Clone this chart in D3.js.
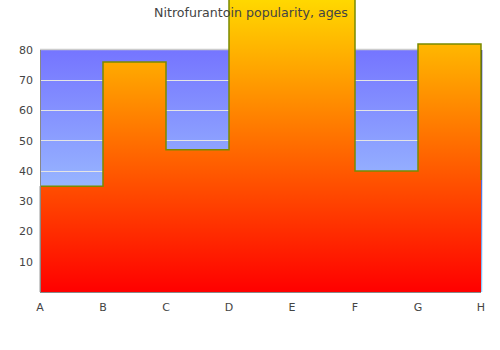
<!DOCTYPE html>
<html><head><meta charset="utf-8">
<script src="https://cdn.jsdelivr.net/npm/d3@7"></script>
<style>body{margin:0;background:#fff}svg{display:block}text{font-family:"DejaVu Sans",sans-serif}</style>
</head><body>
<svg id="c" width="500" height="350"></svg>
<script>
const categories = ["A","B","C","D","E","F","G","H"];
const values = [35, 76, 47, 114, 114, 40, 82, 37];
const yTicks = [10,20,30,40,50,60,70,80];
const title = "Nitrofurantoin popularity, ages";

const svg = d3.select("#c");
const m = {l:40, r:481, t:50, b:292};
const x = d3.scalePoint().domain(categories).range([m.l, m.r]);
const y = d3.scaleLinear().domain([0, 80]).range([m.b, m.t]);
const defs = svg.append("defs");

const bg = defs.append("linearGradient").attr("id","bg").attr("x1",0).attr("y1",0).attr("x2",0).attr("y2",1);
bg.append("stop").attr("offset",0).attr("stop-color","#7575ff");
bg.append("stop").attr("offset",1).attr("stop-color","#b2e6ff");
const edge = defs.append("linearGradient").attr("id","edge").attr("gradientUnits","userSpaceOnUse")
  .attr("x1",0).attr("y1",m.t).attr("x2",0).attr("y2",m.b);
edge.append("stop").attr("offset",0).attr("stop-color","#0000b0");
edge.append("stop").attr("offset",1).attr("stop-color","#90d0ff");

const yMax = d3.max(values);
const ar = defs.append("linearGradient").attr("id","ar").attr("gradientUnits","userSpaceOnUse")
  .attr("x1",0).attr("y1",y(0)).attr("x2",0).attr("y2",y(yMax));
ar.append("stop").attr("offset",0).attr("stop-color","#ff0000");
ar.append("stop").attr("offset",1).attr("stop-color","#ffff00");

// plot background
svg.append("rect").attr("x",m.l).attr("y",m.t).attr("width",m.r-m.l).attr("height",m.b-m.t).attr("fill","url(#bg)");
// grid
svg.append("g").selectAll("line").data(yTicks.slice(0,-1)).join("line")
  .attr("x1",m.l).attr("x2",m.r).attr("y1",d=>y(d)).attr("y2",d=>y(d))
  .attr("stroke","#e4e4e4").attr("stroke-width",1).attr("shape-rendering","crispEdges");
svg.append("line").attr("x1",m.l).attr("x2",m.r).attr("y1",y(80)-0.5).attr("y2",y(80)-0.5).attr("stroke","#cccccc").attr("stroke-width",1.5);
svg.append("line").attr("x1",m.r+0.5).attr("x2",m.r+0.5).attr("y1",m.t).attr("y2",m.b).attr("stroke","url(#edge)").attr("stroke-width",1.5);

const data = categories.map((c,i)=>({c, v: values[i]}));
const area = d3.area().x(d=>x(d.c)).y0(y(0)).y1(d=>y(d.v)).curve(d3.curveStepAfter);
const line = d3.line().x(d=>x(d.c)).y(d=>y(d.v)).curve(d3.curveStepAfter);
svg.append("path").datum(data).attr("d",area).attr("fill","url(#ar)");
svg.append("path").datum(data).attr("d",line).attr("fill","none").attr("stroke","#7a8a00").attr("stroke-width",1.5);
svg.append("line").attr("x1",x("A")).attr("x2",x("A")).attr("y1",y(0)).attr("y2",y(values[0])).attr("stroke","#999").attr("stroke-width",1);

// axes
svg.append("line").attr("x1",m.l+0.5).attr("x2",m.l+0.5).attr("y1",m.t).attr("y2",m.b).attr("stroke","#888").attr("stroke-width",1);
svg.append("line").attr("x1",m.l).attr("x2",m.r).attr("y1",m.b+0.5).attr("y2",m.b+0.5).attr("stroke","#888").attr("stroke-width",1);

svg.append("g").selectAll("text").data(yTicks).join("text")
  .attr("x",m.l-7).attr("y",d=>y(d)).attr("dy","0.35em").attr("text-anchor","end")
  .attr("font-size",11).attr("fill","#444").text(d=>d);
svg.append("g").selectAll("text").data(categories).join("text")
  .attr("x",d=>x(d)).attr("y",311).attr("text-anchor","middle")
  .attr("font-size",11).attr("fill","#444").text(d=>d);

svg.append("text").attr("x",251).attr("y",17).attr("text-anchor","middle")
  .attr("font-size",12.6).attr("fill","#444").text(title);
</script>
</body></html>
